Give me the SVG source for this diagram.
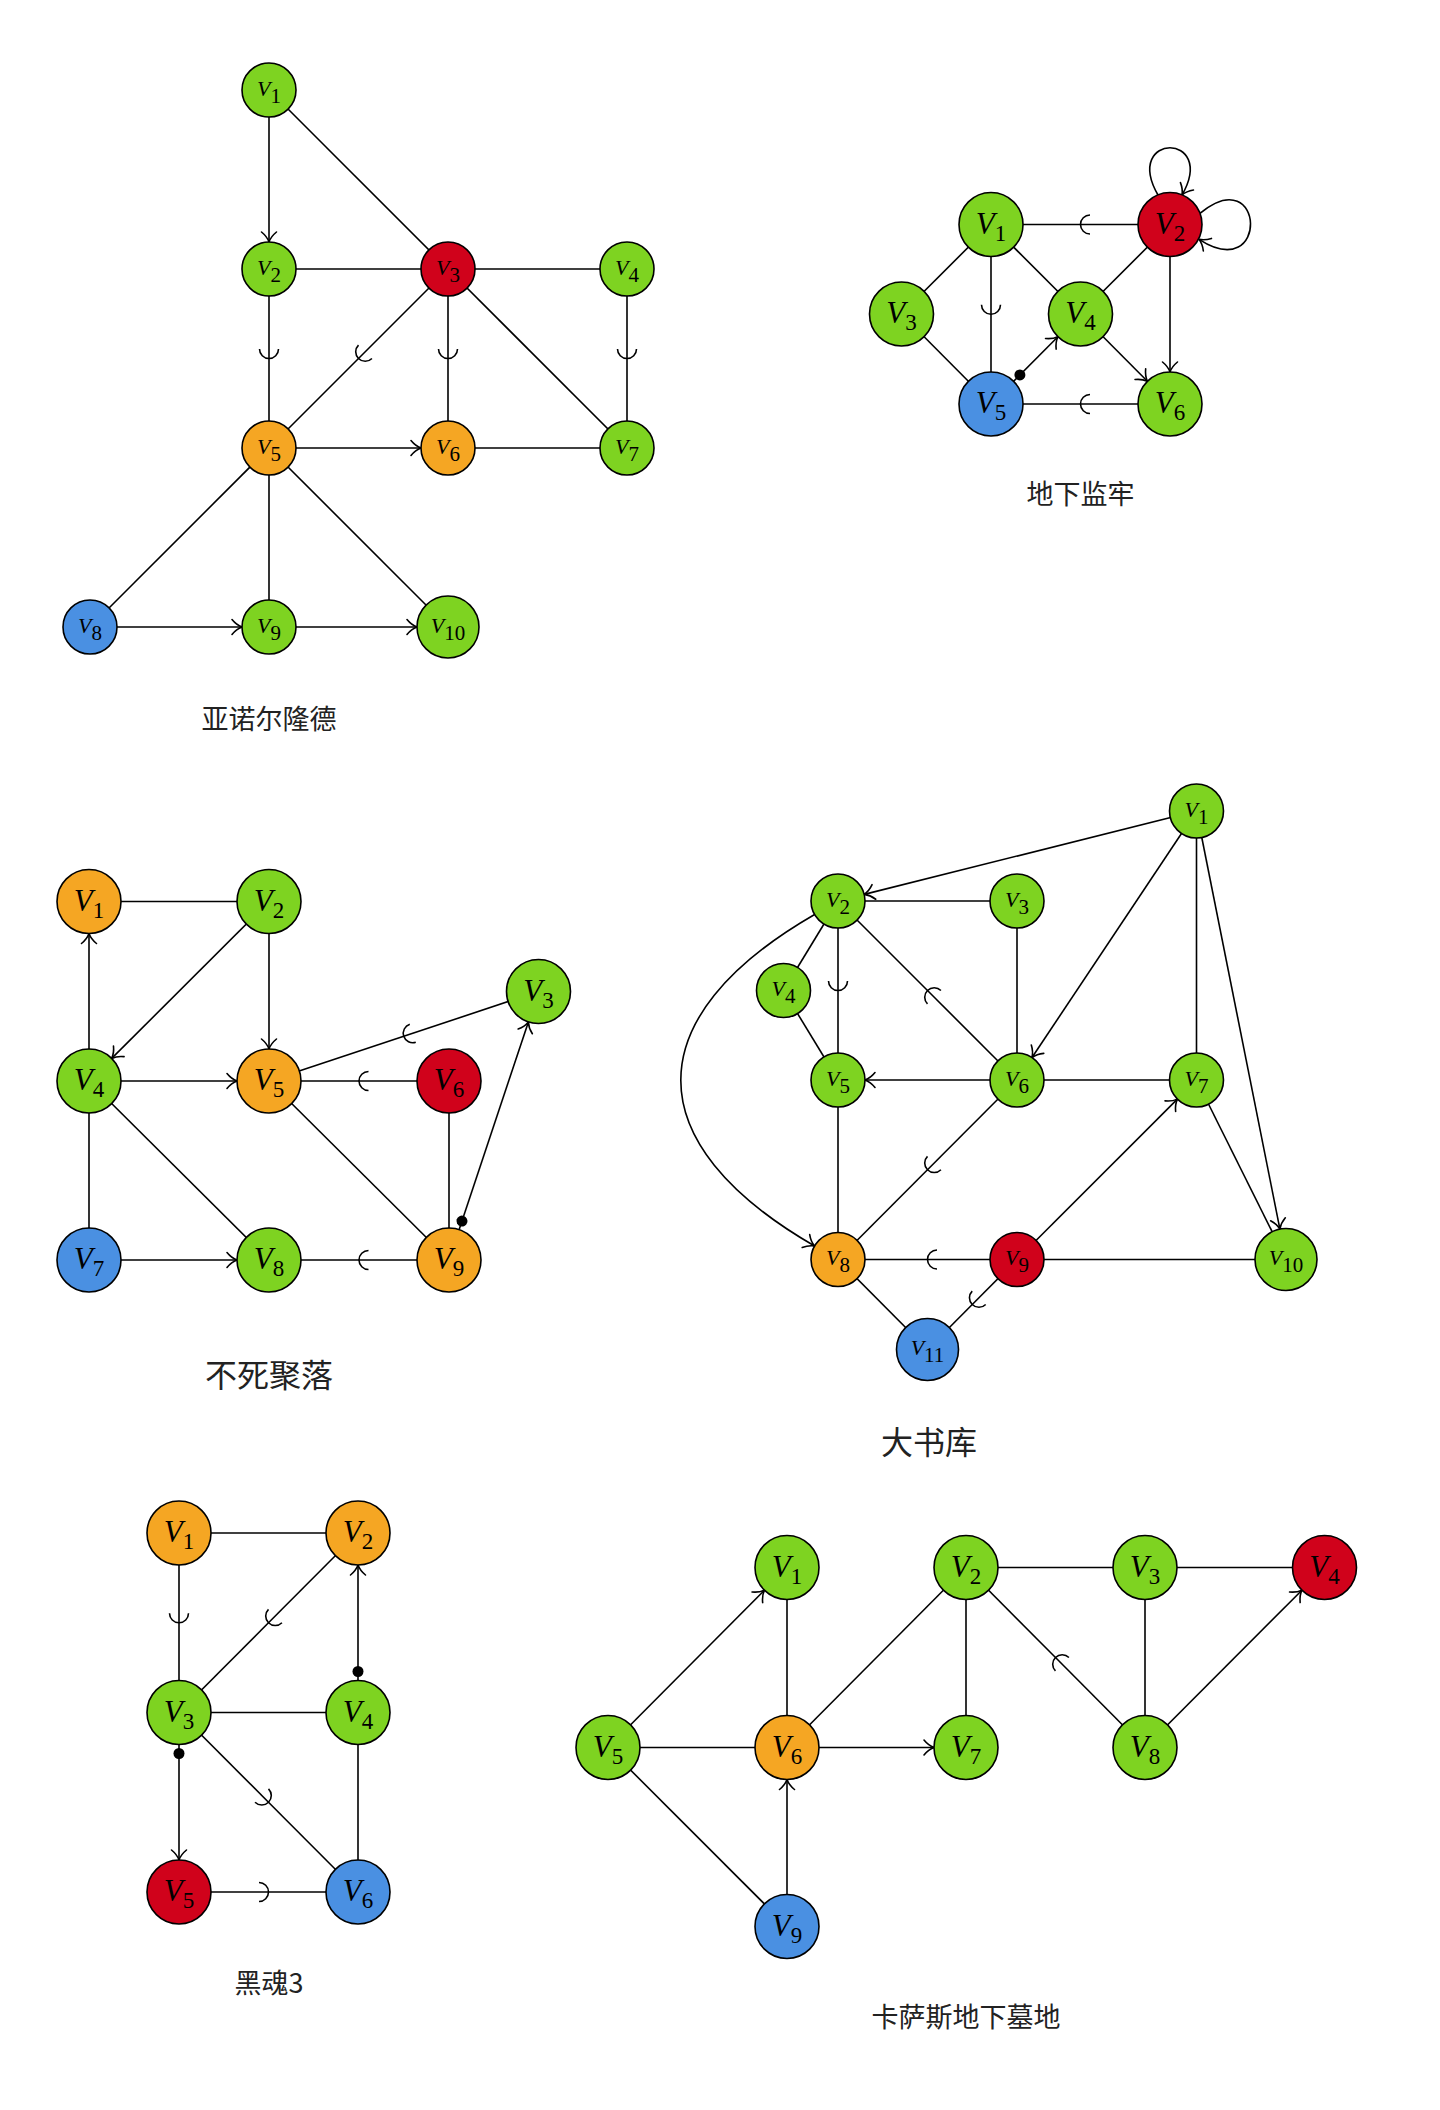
<svg xmlns="http://www.w3.org/2000/svg" width="1440" height="2110" viewBox="0 0 1440 2110">
<style>
.e{fill:none;stroke:#000;stroke-width:1.6}
.a{marker-end:url(#arr)}
.m{marker-mid:url(#arc)}
.d{marker-start:url(#dot)}
.n circle{stroke:#000;stroke-width:1.6}
.g{fill:#7ED321}.r{fill:#D0021B}.o{fill:#F5A623}.b{fill:#4A90E2}
.lb{font-family:"Liberation Serif",serif;font-style:italic;font-size:31px;text-anchor:middle;fill:#000}
.lb tspan{font-style:normal;font-size:23px}
.lb.sm{font-size:22px}
.lb.sm tspan{font-size:21px}
.t{font-family:"Noto Sans CJK SC",sans-serif;font-size:27px;text-anchor:middle;fill:#222}
.t.big{font-size:32px}
</style>
<defs>
<marker id="arr" markerUnits="userSpaceOnUse" viewBox="-50 -50 100 100" markerWidth="100" markerHeight="100" refX="0" refY="0" orient="auto" overflow="visible">
<path d="M -10,-7.5 C -6.5,-3.2 -2.2,-0.8 0,0 C -2.2,0.8 -6.5,3.2 -10,7.5" fill="none" stroke="#000" stroke-width="1.6" stroke-linecap="round"/>
</marker>
<marker id="arc" markerUnits="userSpaceOnUse" viewBox="-50 -50 100 100" markerWidth="100" markerHeight="100" refX="0" refY="0" orient="auto" overflow="visible">
<path d="M -9.5,-9.5 A 9.5 9.5 0 0 1 -9.5,9.5" fill="none" stroke="#000" stroke-width="1.6"/>
</marker>
<marker id="dot" markerUnits="userSpaceOnUse" viewBox="-50 -50 100 100" markerWidth="100" markerHeight="100" refX="0" refY="0" orient="auto" overflow="visible">
<circle cx="41" cy="0" r="5.5" fill="#000"/>
</marker>
</defs>
<rect width="1440" height="2110" fill="#fff"/>

<!-- Graph 1 -->
<g id="graph1">
<g id="g1-edges">
<path class="e a" d="M269,90 L269,242"/>
<path class="e" d="M269,90 L448,269"/>
<path class="e" d="M269,269 L448,269"/>
<path class="e" d="M448,269 L627,269"/>
<polyline class="e m" points="269,269 269,358.5 269,448"/>
<polyline class="e m" points="448,269 358.5,358.5 269,448"/>
<polyline class="e m" points="448,269 448,358.5 448,448"/>
<path class="e" d="M448,269 L627,448"/>
<polyline class="e m" points="627,269 627,358.5 627,448"/>
<path class="e a" d="M269,448 L421,448"/>
<path class="e" d="M448,448 L627,448"/>
<path class="e" d="M269,448 L90,627"/>
<path class="e" d="M269,448 L269,627"/>
<path class="e" d="M269,448 L448,627"/>
<path class="e a" d="M90,627 L242,627"/>
<path class="e a" d="M269,627 L417,627"/>
</g>
<g id="g1-v1" class="n"><circle class="g" cx="269" cy="90" r="27"/><text class="lb sm" x="269" y="95.5">V<tspan dy="7">1</tspan></text></g>
<g id="g1-v2" class="n"><circle class="g" cx="269" cy="269" r="27"/><text class="lb sm" x="269" y="274.5">V<tspan dy="7">2</tspan></text></g>
<g id="g1-v3" class="n"><circle class="r" cx="448" cy="269" r="27"/><text class="lb sm" x="448" y="274.5">V<tspan dy="7">3</tspan></text></g>
<g id="g1-v4" class="n"><circle class="g" cx="627" cy="269" r="27"/><text class="lb sm" x="627" y="274.5">V<tspan dy="7">4</tspan></text></g>
<g id="g1-v5" class="n"><circle class="o" cx="269" cy="448" r="27"/><text class="lb sm" x="269" y="453.5">V<tspan dy="7">5</tspan></text></g>
<g id="g1-v6" class="n"><circle class="o" cx="448" cy="448" r="27"/><text class="lb sm" x="448" y="453.5">V<tspan dy="7">6</tspan></text></g>
<g id="g1-v7" class="n"><circle class="g" cx="627" cy="448" r="27"/><text class="lb sm" x="627" y="453.5">V<tspan dy="7">7</tspan></text></g>
<g id="g1-v8" class="n"><circle class="b" cx="90" cy="627" r="27"/><text class="lb sm" x="90" y="632.5">V<tspan dy="7">8</tspan></text></g>
<g id="g1-v9" class="n"><circle class="g" cx="269" cy="627" r="27"/><text class="lb sm" x="269" y="632.5">V<tspan dy="7">9</tspan></text></g>
<g id="g1-v10" class="n"><circle class="g" cx="448" cy="627" r="31"/><text class="lb sm" x="448" y="632.5">V<tspan dy="7">10</tspan></text></g>
<text id="g1-title" class="t" x="269" y="729">亚诺尔隆德</text>
</g>

<!-- Graph 2 -->
<g id="graph2">
<g id="g2-edges">
<polyline class="e m" points="1170,224.5 1080.5,224.5 991,224.5"/>
<path class="e" d="M991,224.5 L901.5,314"/>
<path class="e" d="M991,224.5 L1080.5,314"/>
<polyline class="e m" points="991,224.5 991,314.25 991,404"/>
<path class="e" d="M901.5,314 L991,404"/>
<path class="e" d="M1170,224.5 L1080.5,314"/>
<path class="e a d" d="M991,404 L1057.9,336.7"/>
<path class="e a" d="M1080.5,314 L1147.4,381.3"/>
<path class="e a" d="M1170,224.5 L1170,372"/>
<polyline class="e m" points="1170,404 1080.5,404 991,404"/>
<path class="e a" d="M1158,195 C1122,132 1218,132 1182,195"/>
<path class="e a" d="M1200,213.4 C1265,160 1270,285 1199,239.3"/>
</g>
<g id="g2-v1" class="n"><circle class="g" cx="991" cy="224.5" r="32"/><text class="lb" x="991" y="233.5">V<tspan dy="7">1</tspan></text></g>
<g id="g2-v2" class="n"><circle class="r" cx="1170" cy="224.5" r="32"/><text class="lb" x="1170" y="233.5">V<tspan dy="7">2</tspan></text></g>
<g id="g2-v3" class="n"><circle class="g" cx="901.5" cy="314" r="32"/><text class="lb" x="901.5" y="323">V<tspan dy="7">3</tspan></text></g>
<g id="g2-v4" class="n"><circle class="g" cx="1080.5" cy="314" r="32"/><text class="lb" x="1080.5" y="323">V<tspan dy="7">4</tspan></text></g>
<g id="g2-v5" class="n"><circle class="b" cx="991" cy="404" r="32"/><text class="lb" x="991" y="413">V<tspan dy="7">5</tspan></text></g>
<g id="g2-v6" class="n"><circle class="g" cx="1170" cy="404" r="32"/><text class="lb" x="1170" y="413">V<tspan dy="7">6</tspan></text></g>
<text id="g2-title" class="t" x="1080.5" y="504">地下监牢</text>
</g>

<!-- Graph 3 -->
<g id="graph3">
<g id="g3-edges">
<path class="e" d="M89,901.5 L269,901.5"/>
<path class="e a" d="M89,1081 L89,933.5"/>
<path class="e a" d="M269,901.5 L111.7,1058.4"/>
<path class="e a" d="M269,901.5 L269,1049"/>
<path class="e a" d="M89,1081 L237,1081"/>
<polyline class="e m" points="538.5,991.5 403.75,1036.25 269,1081"/>
<polyline class="e m" points="449,1081 359,1081 269,1081"/>
<path class="e" d="M89,1081 L89,1260"/>
<path class="e" d="M89,1081 L269,1260"/>
<path class="e" d="M269,1081 L449,1260"/>
<path class="e" d="M449,1081 L449,1260"/>
<path class="e a" d="M89,1260 L237,1260"/>
<polyline class="e m" points="449,1260 359,1260 269,1260"/>
<path class="e a d" d="M449,1260 L528.4,1021.9"/>
</g>
<g id="g3-v1" class="n"><circle class="o" cx="89" cy="901.5" r="32"/><text class="lb" x="89" y="910.5">V<tspan dy="7">1</tspan></text></g>
<g id="g3-v2" class="n"><circle class="g" cx="269" cy="901.5" r="32"/><text class="lb" x="269" y="910.5">V<tspan dy="7">2</tspan></text></g>
<g id="g3-v3" class="n"><circle class="g" cx="538.5" cy="991.5" r="32"/><text class="lb" x="538.5" y="1000.5">V<tspan dy="7">3</tspan></text></g>
<g id="g3-v4" class="n"><circle class="g" cx="89" cy="1081" r="32"/><text class="lb" x="89" y="1090">V<tspan dy="7">4</tspan></text></g>
<g id="g3-v5" class="n"><circle class="o" cx="269" cy="1081" r="32"/><text class="lb" x="269" y="1090">V<tspan dy="7">5</tspan></text></g>
<g id="g3-v6" class="n"><circle class="r" cx="449" cy="1081" r="32"/><text class="lb" x="449" y="1090">V<tspan dy="7">6</tspan></text></g>
<g id="g3-v7" class="n"><circle class="b" cx="89" cy="1260" r="32"/><text class="lb" x="89" y="1269">V<tspan dy="7">7</tspan></text></g>
<g id="g3-v8" class="n"><circle class="g" cx="269" cy="1260" r="32"/><text class="lb" x="269" y="1269">V<tspan dy="7">8</tspan></text></g>
<g id="g3-v9" class="n"><circle class="o" cx="449" cy="1260" r="32"/><text class="lb" x="449" y="1269">V<tspan dy="7">9</tspan></text></g>
<text id="g3-title" class="t big" x="269" y="1387">不死聚落</text>
</g>

<!-- Graph 4 -->
<g id="graph4">
<g id="g4-edges">
<path class="e a" d="M1196.5,811 L864.2,894.4"/>
<path class="e a" d="M1196.5,811 L1032,1057.5"/>
<path class="e" d="M1196.5,811 L1196.5,1080"/>
<path class="e a" d="M1196.5,811 L1279.9,1229.1"/>
<path class="e" d="M838,901 L1017,901"/>
<path class="e" d="M838,901 L783.5,990.5"/>
<polyline class="e m" points="838,901 838,990.5 838,1080"/>
<polyline class="e m" points="1017,1080 927.5,990.5 838,901"/>
<path class="e" d="M1017,901 L1017,1080"/>
<path class="e a" d="M1017,1080 L865,1080"/>
<path class="e" d="M1017,1080 L1196.5,1080"/>
<path class="e" d="M783.5,990.5 L838,1080"/>
<path class="e" d="M838,1080 L838,1259.5"/>
<polyline class="e m" points="1017,1080 927.5,1169.75 838,1259.5"/>
<path class="e a" d="M814.6,914.5 C636.2,1017.5 636.2,1143 814.6,1246"/>
<polyline class="e m" points="1017,1259.5 927.5,1259.5 838,1259.5"/>
<path class="e a" d="M1017,1259.5 L1177.4,1099.1"/>
<path class="e" d="M1017,1259.5 L1286,1259.5"/>
<path class="e" d="M1196.5,1080 L1286,1259.5"/>
<path class="e" d="M838,1259.5 L927.5,1349.5"/>
<polyline class="e m" points="1017,1259.5 972.25,1304.5 927.5,1349.5"/>
</g>
<g id="g4-v1" class="n"><circle class="g" cx="1196.5" cy="811" r="27"/><text class="lb sm" x="1196.5" y="816.5">V<tspan dy="7">1</tspan></text></g>
<g id="g4-v2" class="n"><circle class="g" cx="838" cy="901" r="27"/><text class="lb sm" x="838" y="906.5">V<tspan dy="7">2</tspan></text></g>
<g id="g4-v3" class="n"><circle class="g" cx="1017" cy="901" r="27"/><text class="lb sm" x="1017" y="906.5">V<tspan dy="7">3</tspan></text></g>
<g id="g4-v4" class="n"><circle class="g" cx="783.5" cy="990.5" r="27"/><text class="lb sm" x="783.5" y="996">V<tspan dy="7">4</tspan></text></g>
<g id="g4-v5" class="n"><circle class="g" cx="838" cy="1080" r="27"/><text class="lb sm" x="838" y="1085.5">V<tspan dy="7">5</tspan></text></g>
<g id="g4-v6" class="n"><circle class="g" cx="1017" cy="1080" r="27"/><text class="lb sm" x="1017" y="1085.5">V<tspan dy="7">6</tspan></text></g>
<g id="g4-v7" class="n"><circle class="g" cx="1196.5" cy="1080" r="27"/><text class="lb sm" x="1196.5" y="1085.5">V<tspan dy="7">7</tspan></text></g>
<g id="g4-v8" class="n"><circle class="o" cx="838" cy="1259.5" r="27"/><text class="lb sm" x="838" y="1265">V<tspan dy="7">8</tspan></text></g>
<g id="g4-v9" class="n"><circle class="r" cx="1017" cy="1259.5" r="27"/><text class="lb sm" x="1017" y="1265">V<tspan dy="7">9</tspan></text></g>
<g id="g4-v10" class="n"><circle class="g" cx="1286" cy="1259.5" r="31"/><text class="lb sm" x="1286" y="1265">V<tspan dy="7">10</tspan></text></g>
<g id="g4-v11" class="n"><circle class="b" cx="927.5" cy="1349.5" r="31"/><text class="lb sm" x="927.5" y="1355">V<tspan dy="7">11</tspan></text></g>
<text id="g4-title" class="t big" x="929" y="1453.5">大书库</text>
</g>

<!-- Graph 5 -->
<g id="graph5">
<g id="g5-edges">
<path class="e" d="M179,1533 L358,1533"/>
<polyline class="e m" points="179,1533 179,1622.75 179,1712.5"/>
<polyline class="e m" points="358,1533 268.5,1622.75 179,1712.5"/>
<path class="e a d" d="M358,1712.5 L358,1565"/>
<path class="e" d="M179,1712.5 L358,1712.5"/>
<path class="e a d" d="M179,1712.5 L179,1860"/>
<polyline class="e m" points="179,1712.5 268.5,1802.25 358,1892"/>
<path class="e" d="M358,1712.5 L358,1892"/>
<polyline class="e m" points="179,1892 268.5,1892 358,1892"/>
</g>
<g id="g5-v1" class="n"><circle class="o" cx="179" cy="1533" r="32"/><text class="lb" x="179" y="1542">V<tspan dy="7">1</tspan></text></g>
<g id="g5-v2" class="n"><circle class="o" cx="358" cy="1533" r="32"/><text class="lb" x="358" y="1542">V<tspan dy="7">2</tspan></text></g>
<g id="g5-v3" class="n"><circle class="g" cx="179" cy="1712.5" r="32"/><text class="lb" x="179" y="1721.5">V<tspan dy="7">3</tspan></text></g>
<g id="g5-v4" class="n"><circle class="g" cx="358" cy="1712.5" r="32"/><text class="lb" x="358" y="1721.5">V<tspan dy="7">4</tspan></text></g>
<g id="g5-v5" class="n"><circle class="r" cx="179" cy="1892" r="32"/><text class="lb" x="179" y="1901">V<tspan dy="7">5</tspan></text></g>
<g id="g5-v6" class="n"><circle class="b" cx="358" cy="1892" r="32"/><text class="lb" x="358" y="1901">V<tspan dy="7">6</tspan></text></g>
<text id="g5-title" class="t" x="269" y="1993">黑魂3</text>
</g>

<!-- Graph 6 -->
<g id="graph6">
<g id="g6-edges">
<path class="e a" d="M608,1747.5 L764.4,1590.2"/>
<path class="e" d="M787,1567.5 L787,1747.5"/>
<path class="e" d="M966,1567.5 L1145,1567.5"/>
<path class="e" d="M1145,1567.5 L1324.5,1567.5"/>
<path class="e" d="M787,1747.5 L966,1567.5"/>
<path class="e" d="M966,1567.5 L966,1747.5"/>
<polyline class="e m" points="1145,1747.5 1055.5,1657.5 966,1567.5"/>
<path class="e" d="M1145,1567.5 L1145,1747.5"/>
<path class="e a" d="M1145,1747.5 L1301.9,1590.2"/>
<path class="e" d="M608,1747.5 L787,1747.5"/>
<path class="e a" d="M787,1747.5 L934,1747.5"/>
<path class="e" d="M608,1747.5 L787,1926.5"/>
<path class="e a" d="M787,1926.5 L787,1779.5"/>
</g>
<g id="g6-v1" class="n"><circle class="g" cx="787" cy="1567.5" r="32"/><text class="lb" x="787" y="1576.5">V<tspan dy="7">1</tspan></text></g>
<g id="g6-v2" class="n"><circle class="g" cx="966" cy="1567.5" r="32"/><text class="lb" x="966" y="1576.5">V<tspan dy="7">2</tspan></text></g>
<g id="g6-v3" class="n"><circle class="g" cx="1145" cy="1567.5" r="32"/><text class="lb" x="1145" y="1576.5">V<tspan dy="7">3</tspan></text></g>
<g id="g6-v4" class="n"><circle class="r" cx="1324.5" cy="1567.5" r="32"/><text class="lb" x="1324.5" y="1576.5">V<tspan dy="7">4</tspan></text></g>
<g id="g6-v5" class="n"><circle class="g" cx="608" cy="1747.5" r="32"/><text class="lb" x="608" y="1756.5">V<tspan dy="7">5</tspan></text></g>
<g id="g6-v6" class="n"><circle class="o" cx="787" cy="1747.5" r="32"/><text class="lb" x="787" y="1756.5">V<tspan dy="7">6</tspan></text></g>
<g id="g6-v7" class="n"><circle class="g" cx="966" cy="1747.5" r="32"/><text class="lb" x="966" y="1756.5">V<tspan dy="7">7</tspan></text></g>
<g id="g6-v8" class="n"><circle class="g" cx="1145" cy="1747.5" r="32"/><text class="lb" x="1145" y="1756.5">V<tspan dy="7">8</tspan></text></g>
<g id="g6-v9" class="n"><circle class="b" cx="787" cy="1926.5" r="32"/><text class="lb" x="787" y="1935.5">V<tspan dy="7">9</tspan></text></g>
<text id="g6-title" class="t" x="966" y="2027">卡萨斯地下墓地</text>
</g>
</svg>
